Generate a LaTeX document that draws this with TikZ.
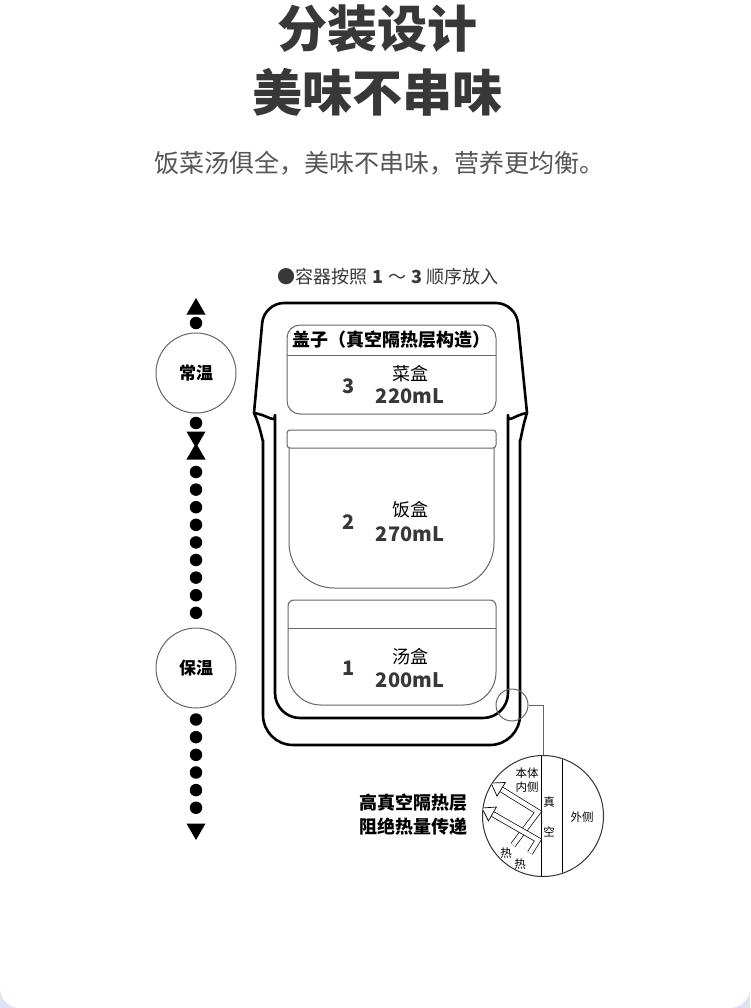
\documentclass[tikz,border=0pt]{standalone}
\usepackage{fontspec}
\setmainfont{Noto Sans CJK SC}
\usepackage{tikz}
\usetikzlibrary{shapes,calc}
\definecolor{bgBlue}{HTML}{DCE3F5}
\definecolor{darkT}{HTML}{383838}
\definecolor{midT}{HTML}{555555}
\definecolor{thinL}{HTML}{666666}
\tikzstyle{thickL}=[line width=2.6pt, line join=round, line cap=round]
\tikzstyle{thinB}=[draw=thinL, line width=1pt]
\tikzstyle{dotB}=[circle, fill=black, minimum size=12.5pt, inner sep=0pt, outer sep=0pt]
\tikzstyle{triU}=[regular polygon, regular polygon sides=3, fill=black, minimum size=22pt, inner sep=0pt]
\tikzstyle{triD}=[triU, shape border rotate=180]
\tikzstyle{tempC}=[circle, draw=thinL, line width=1pt, minimum size=80pt, inner sep=0pt, font=\bfseries\fontsize{17}{17}\selectfont]
\tikzstyle{boxT}=[inner sep=0pt, font=\fontsize{18}{18}\selectfont]
\tikzstyle{volT}=[inner sep=0pt, text=darkT, font=\bfseries\fontsize{20}{20}\selectfont]
\tikzstyle{tinyT}=[inner sep=0pt, font=\fontsize{11.5}{11.5}\selectfont]
\tikzstyle{pipe}=[draw=black, line width=0.7pt, double=white, double distance=4.5pt]
\tikzstyle{head}=[draw=black, fill=white, line width=0.7pt, line join=miter]

\begin{document}
\begin{tikzpicture}[x=1pt, y=-1pt]
        \useasboundingbox (0,0) rectangle (750,1008);
        \fill[bgBlue] (0,0) rectangle (750,1008);
        \fill[white, rounded corners=20pt] (0,-40) rectangle (750,1008);
        % titles
        \node(ttl1) [text=darkT, font=\bfseries\fontsize{50}{50}\selectfont] at (377,29){分装设计};
        \node(ttl2) [text=darkT, font=\bfseries\fontsize{50}{50}\selectfont] at (377,92){美味不串味};
        \node(sub) [text=midT, font=\fontsize{25}{25}\selectfont] at (379,163){饭菜汤俱全，美味不串味，营养更均衡。};
        \node(order) [text=darkT, font=\fontsize{18}{18}\selectfont] at (388,277){●容器按照\hspace{5pt}\textbf{1}\hspace{5pt}～\hspace{5pt}\textbf{3}\hspace{5pt}顺序放入};
        % left column
        \node(up1) [triU] at (196,309){};
        \node(d0) [dotB] at (196,323){};
        \node(warm1) [tempC] at (196,373){常温};
        \node(d1) [dotB] at (196,423){};
        \node(dn1) [triD] at (196,437){};
        \node(up2) [triU] at (196,454){};
        \foreach \i in {0,...,8} \node(m\i) [dotB] at (196,{472+17.6*\i}){};
        \node(warm2) [tempC] at (196,668){保温};
        \foreach \i in {0,...,5} \node(b\i) [dotB] at (196,{719.5+17.65*\i}){};
        \node(dn2) [triD] at (196,829){};
        % container
        \draw[thickL, rounded corners=20pt] (254,413) -- (264,303) -- (516,303) -- (527,413);
        \draw[thickL, rounded corners=30pt] (254,413) .. controls (261,428) and (263,445) .. (263,470) -- (263,745) -- (520,745) -- (520,470) .. controls (520,445) and (522,428) .. (527,413);
        \draw[thickL, rounded corners=25pt] (254,413) .. controls (268,415) and (275,424) .. (275,440) -- (275,718) -- (508,718) -- (508,440) .. controls (508,424) and (514,415) .. (527,413);
        % lid box
        \draw[thinB, rounded corners=13pt] (287,325) rectangle (496,414);
        \draw[thinB] (287,355) -- (496,355);
        \node(lid) [inner sep=0pt, font=\bfseries\fontsize{18}{18}\selectfont] at (391,340){盖子（真空隔热层构造）};
        \node(n3) [volT] at (349,386){3};
        \node(k3) [boxT] at (410,374){菜盒};
        \node(v3) [volT] at (410,396){220mL};
        % rice box
        \draw[thinB, rounded corners=3pt] (287,430) rectangle (496,448);
        \draw[thinB, rounded corners=45pt] (289,448) -- (289,588) -- (494,588) -- (494,448);
        \node(n2) [volT] at (349,522){2};
        \node(k2) [boxT] at (410,510){饭盒};
        \node(v2) [volT] at (410,534){270mL};
        % soup box
        \draw[thinB, rounded corners=6pt] (288,628) -- (288,600) -- (496,600) -- (496,628);
        \draw[thinB] (288,628) -- (496,628);
        \draw[thinB, rounded corners=33pt] (288,628) -- (288,705) -- (496,705) -- (496,628);
        \node(n1) [volT] at (349,668){1};
        \node(k1) [boxT] at (410,657){汤盒};
        \node(v1) [volT] at (410,680){200mL};
        % detail
        \node(mag) [circle, thinB, minimum size=32pt, inner sep=0pt] at (512,705){};
        \node(zoom) [circle, draw=black!80, line width=1pt, minimum size=121pt, inner sep=0pt] at (543,816){};
        \draw[thinB] (mag.east) -| (zoom.north);
        \begin{scope}
            \clip (543,816) circle (60);
            \draw[line width=1pt] (541.5,750) -- (541.5,880);
            \draw[line width=1pt] (562,750) -- (562,880);
            \coordinate(tA) at (513,845);
            \coordinate(wA) at (538,812);
            \coordinate(hA) at (491,783);
            \coordinate(tB) at (530,853);
            \coordinate(wB) at (538,840);
            \coordinate(hB) at (482,808);
            \coordinate(bA) at ($(hA)!12pt!(wA)$);
            \coordinate(bB) at ($(hB)!12pt!(wB)$);
            \draw[pipe] (tA) -- (wA) -- (bA);
            \draw[head] (hA) -- ($(bA)!8pt!90:(hA)$) -- ($(bA)!8pt!-90:(hA)$) -- cycle;
            \draw[pipe] (tB) -- (wB) -- (bB);
            \draw[head] (hB) -- ($(bB)!8pt!90:(hB)$) -- ($(bB)!8pt!-90:(hB)$) -- cycle;
        \end{scope}
        \node(in1) [tinyT] at (527,773){本体};
        \node(in2) [tinyT] at (527,787){内侧};
        \node(vac1) [tinyT] at (549,802){真};
        \node(vac2) [tinyT] at (549,832){空};
        \node(out) [tinyT] at (582,817){外侧};
        \node(heat1) [tinyT] at (506,853){热};
        \node(heat2) [tinyT] at (520,864){热};
        \node(note1) [inner sep=0pt, font=\bfseries\fontsize{18}{18}\selectfont] at (413,803){高真空隔热层};
        \node(note2) [inner sep=0pt, font=\bfseries\fontsize{18}{18}\selectfont] at (413,827){阻绝热量传递};
     \end{tikzpicture}
\end{document}
